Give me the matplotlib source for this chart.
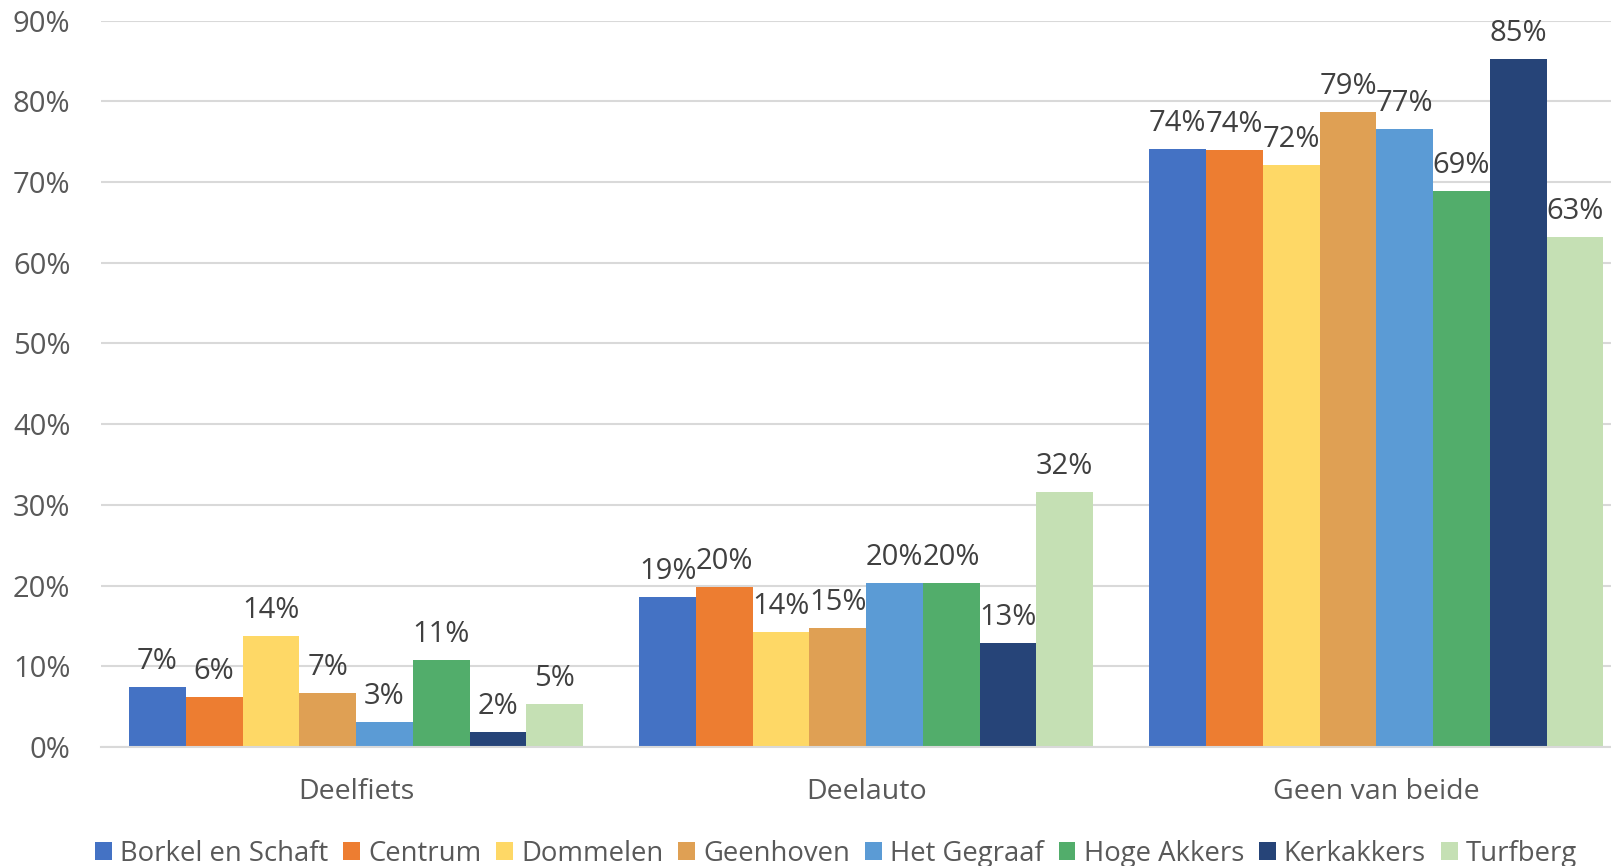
import numpy as np
import matplotlib.pyplot as plt

# Data
categorieen = ['Deelfiets', 'Deelauto', 'Geen van beide']
wijken = ['Borkel en Schaft', 'Centrum', 'Dommelen', 'Geenhoven',
          'Het Gegraaf', 'Hoge Akkers', 'Kerkakkers', 'Turfberg']
borkel = [7.4, 18.6, 74.1]
centrum = [6.2, 19.8, 74.0]
dommelen = [13.7, 14.2, 72.1]
geenhoven = [6.7, 14.7, 78.7]
gegraaf = [3.1, 20.3, 76.6]
hoge_akkers = [10.8, 20.3, 68.9]
kerkakkers = [1.9, 12.9, 85.2]
turfberg = [5.3, 31.6, 63.2]
waarden = [borkel, centrum, dommelen, geenhoven, gegraaf, hoge_akkers, kerkakkers, turfberg]
kleuren = ['#4472C4', '#ED7D31', '#FED866', '#DFA054', '#5B9BD5', '#52AD6B', '#264478', '#C5E0B4']
y_ticks = [0, 10, 20, 30, 40, 50, 60, 70, 80, 90]

plt.rcParams['font.family'] = ['Open Sans', 'DejaVu Sans']

fig = plt.figure(figsize=(16.11, 8.66), dpi=100)
ax = fig.add_axes([0.0627, 0.1374, 0.950, 0.8389])

x = np.arange(len(categorieen))
breedte = 0.89 / len(wijken)

for i, (naam, vals, kleur) in enumerate(zip(wijken, waarden, kleuren)):
    pos = x - 0.445 + breedte * (i + 0.5)
    bars = ax.bar(pos, vals, width=breedte, color=kleur, label=naam, zorder=2)
    for b, v in zip(bars, vals):
        ax.annotate(f'{round(v)}%', (b.get_x() + b.get_width() / 2, v),
                    xytext=(0, 8), textcoords='offset points',
                    ha='center', va='bottom', fontsize=21, color='#404040')

ax.set_xlim(-0.5, 2.5)
ax.set_ylim(0, 90)
ax.set_yticks(y_ticks)
ax.set_yticklabels([f'{t}%' for t in y_ticks])
ax.set_xticks(x)
ax.set_xticklabels(categorieen)
ax.tick_params(axis='y', length=0, labelsize=21, colors='#595959', pad=22)
ax.tick_params(axis='x', length=0, labelsize=20.5, colors='#595959', pad=22)
ax.grid(axis='y', color='#D9D9D9', linewidth=1.5, zorder=0)
for s in ['top', 'right', 'left']:
    ax.spines[s].set_visible(False)
ax.spines['bottom'].set_color('#D9D9D9')
ax.spines['bottom'].set_linewidth(1.5)

fig.legend(loc='center', bbox_to_anchor=(0.519, 0.014), ncol=8, frameon=False,
           fontsize=19.8, labelcolor='#595959', handlelength=0.6, handleheight=0.6,
           handletextpad=0.3, columnspacing=0.55)

fig.savefig('out.png', dpi=100)
